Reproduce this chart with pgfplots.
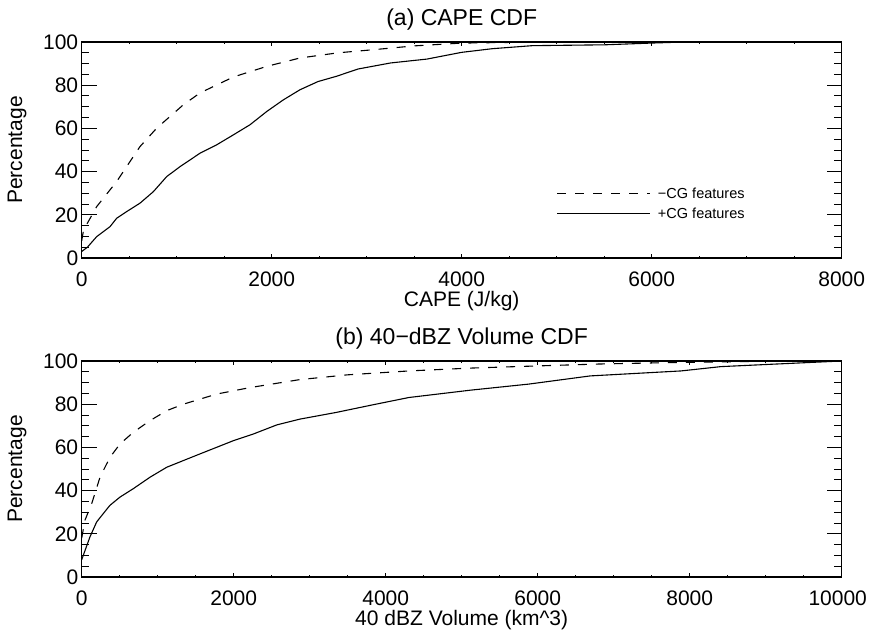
\documentclass[border=0pt]{standalone}
\usepackage{pgfplots}
\pgfplotsset{compat=1.18}
\usepackage{fontspec}
\setmainfont{Liberation Sans}

\pgfplotsset{
  cdf/.style={
    width=760bp, height=216bp, scale only axis,
    ymin=0, ymax=100, ytick={0,20,...,100},
    minor x tick num=3, minor y tick num=3,
    tick align=inside,
    axis line style={line width=1.3bp},
    every tick/.style={black, line width=1bp},
    xtick style={/pgfplots/major tick length=4bp,/pgfplots/minor tick length=2bp},
    ytick style={/pgfplots/major tick length=15bp,/pgfplots/minor tick length=7.5bp},
    scaled x ticks=false,
    /pgf/number format/1000 sep={},
    /pgf/number format/assume math mode=true,
    tick label style={font=\fontsize{21bp}{24bp}\selectfont},
    xticklabel style={anchor=base, yshift=-28bp},
    label style={font=\fontsize{21bp}{24bp}\selectfont},
    xlabel style={at={(axis description cs:0.5,0)}, anchor=base, yshift=-48bp},
    ylabel style={at={(axis description cs:-0.085,0.5)}, anchor=center},
    title style={at={(axis description cs:0.5,1)}, anchor=base, yshift=10.5bp,
                 font=\fontsize{23bp}{26bp}\selectfont},
    ylabel={Percentage},
  },
  neg/.style={black, line width=1.1bp, dash pattern=on 9bp off 9bp},
  pos/.style={black, line width=1.1bp},
}

\begin{document}
\begin{tikzpicture}
% (a) CAPE CDF
\begin{axis}[cdf,
  at={(0,0)},
  xmin=0, xmax=8000, xtick={0,2000,...,8000},
  title={(a) CAPE CDF},
  xlabel={CAPE (J/kg)},
  legend style={draw=none, fill=none, at={(axis description cs:0.625,0.33)},
    anchor=north west, inner sep=0pt, row sep=6bp,
    font=\fontsize{14.5bp}{16bp}\selectfont, nodes={inner sep=1bp},
    /tikz/every odd column/.append style={column sep=6bp}},
  legend cell align=left,
  legend image code/.code={\draw[#1] (0bp,0bp) -- (93bp,0bp);},
]
\addplot[neg] coordinates {
  (0,8) (20,13) (158,23.8) (368,35.4) (614,51.6) (789,60.1) (1069,70.9)
  (1245,76.4) (1596,83.8) (1947,88.7) (2298,92.6) (2700,95.0) (3062,96.4)
  (3500,98.2) (3998,99.5) (4500,99.8) (4971,100)};
\addlegendentry{−CG features}
\addplot[pos] coordinates {
  (0,3) (60,5) (158,9.9) (298,14.5) (368,18.4) (474,21.5) (614,25.4)
  (754,30.7) (895,37.7) (1035,42.3) (1245,48.5) (1421,52.4) (1596,57)
  (1772,61.7) (1947,67.8) (2122,73.2) (2298,77.9) (2488,81.7) (2680,84.1)
  (2909,87.5) (3252,90.3) (3635,92.1) (3998,95.2) (4322,96.9) (4742,98.3)
  (5506,98.7) (5995,99.5) (6346,100)};
\addlegendentry{+CG features}
\end{axis}

% (b) 40-dBZ volume CDF
\begin{axis}[cdf,
  at={(0,-319bp)},
  xmin=0, xmax=10000, xtick={0,2000,...,10000},
  xticklabels={0,2000,4000,6000,8000,{\hspace*{-8bp}10000}},
  title={(b) 40−dBZ Volume CDF},
  xlabel={40 dBZ Volume (km\textasciicircum 3)},
]
\addplot[neg] coordinates {
  (0,18) (43,26.3) (132,34) (241,46.2) (372,55.4) (504,61.6) (679,67)
  (899,72.4) (1118,77) (1337,80) (1776,84.7) (2215,87.7) (2872,91.4)
  (3500,93.6) (4305,95.4) (5100,96.7) (5975,97.7) (6800,98.6) (7646,99.2)
  (8600,99.7) (9557,100) (10000,100)};
\addplot[pos] coordinates {
  (0,8) (109,18.6) (197,25.5) (285,29.4) (372,33.2) (504,37) (679,40.9)
  (899,46.2) (1118,50.8) (1337,53.9) (1557,57) (1995,63.1) (2258,66.2)
  (2566,70.4) (2872,73.1) (3350,76.2) (3828,79.7) (4305,83.1) (5116,86.5)
  (5880,89.3) (6692,93.1) (7885,95.4) (8411,97.4) (9079,98.5) (10000,100)};
\end{axis}

\pgfresetboundingbox
\path[use as bounding box] (-81.7bp,258bp) rectangle (787.3bp,-373bp);
\end{tikzpicture}
\end{document}
